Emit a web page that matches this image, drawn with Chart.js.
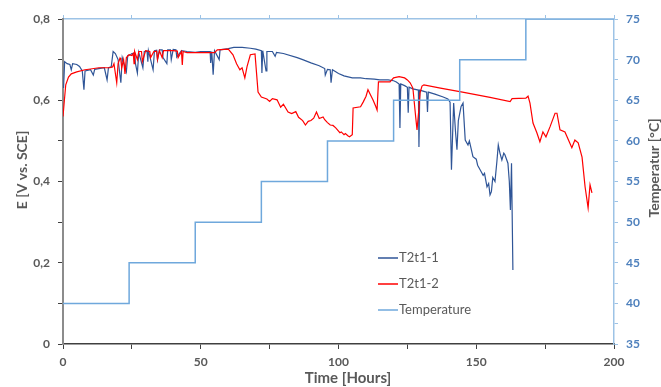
<!DOCTYPE html>
<html>
<head>
<meta charset="utf-8">
<script src="https://cdn.jsdelivr.net/npm/chart.js@4"></script>
<style>
  body { margin: 0; background: #fff; }
  #wrap { width: 661px; height: 387px; }
</style>
</head>
<body>
<div id="wrap"><canvas id="graficoSensores" width="661" height="387"></canvas></div>
<script>
// Dados (horas, volts, °C)
const blueHours = [0.2,0.6,1.5,2.5,3,3.5,5,6,7,7.6,8,10,11,11.5,13,15,16,16.5,17.5,18.2,19,20,21,21.5,23,23.5,24.5,25,26,26.3,27,27.5,29,29.5,30.5,30.8,31,32.7,33.2,34,34.3,35,36,36.3,37.7,38,39,39.3,40,41,41.3,43,45,48,50,53.4,53.6,54,54.5,55,56.7,57,60,62,65,68,70,72,72.2,72.5,73.7,74,76,77,77.5,80,85,87,90,93,95,95.2,96,97,97.3,97.8,99,100,102,105,108,110,113,115,118,120,121,122,122.3,122.6,124,125,125.3,125.6,127,129,129.2,129.5,131,132,132.3,132.6,135,138,139.7,140.5,141,141.8,142.5,143,143.5,144.5,145.2,146,147,147.5,148.8,150,150.5,151.4,152.5,153,153.9,154.5,155,155.5,156,156.8,157.5,158,158.6,159.3,160,160.4,161.5,162,162.4,162.8,163.3];
const blueVolts = [0.63,0.695,0.69,0.688,0.675,0.69,0.688,0.683,0.672,0.626,0.672,0.675,0.662,0.676,0.678,0.68,0.65,0.68,0.682,0.72,0.715,0.70,0.643,0.705,0.67,0.71,0.712,0.715,0.716,0.69,0.667,0.718,0.68,0.72,0.721,0.695,0.722,0.675,0.722,0.723,0.7,0.724,0.724,0.705,0.69,0.724,0.724,0.7,0.725,0.724,0.706,0.722,0.72,0.718,0.72,0.72,0.692,0.72,0.663,0.722,0.70,0.724,0.727,0.73,0.73,0.728,0.726,0.722,0.667,0.722,0.672,0.72,0.72,0.708,0.718,0.715,0.705,0.70,0.692,0.685,0.678,0.662,0.676,0.675,0.643,0.675,0.67,0.666,0.66,0.655,0.655,0.653,0.652,0.65,0.65,0.648,0.645,0.64,0.532,0.64,0.636,0.632,0.569,0.632,0.628,0.625,0.485,0.625,0.622,0.62,0.571,0.62,0.615,0.608,0.603,0.595,0.429,0.593,0.52,0.478,0.55,0.585,0.593,0.502,0.49,0.5,0.461,0.455,0.44,0.429,0.415,0.42,0.387,0.395,0.367,0.375,0.41,0.4,0.45,0.49,0.47,0.453,0.47,0.466,0.445,0.40,0.33,0.445,0.182];

const redHours = [0,0.5,1,2,3,5,8,10,13,17,18,18.5,19.5,20,20.7,21,21.3,22,22.5,23,24,25,25.5,25.8,26,27,27.5,28.5,28.8,30,31.5,31.8,33,34,34.3,35,36,36.5,40,41.5,41.8,43,43.3,43.6,45,50,55,56,60,61.7,63,64.2,65,66,66.8,68,69.7,70.8,72,74,75,76,77.7,79,80,81.7,83,84.5,85.5,87,88,89,90,91,92,93,94.4,95,96,97,98,99,100.5,101,102,102.5,103.5,104,105,105.3,108,109,110,110.7,111.5,112.5,113.5,114,114.5,116,118.7,120,122,124,125,126,127,128,128.5,129.2,129.6,130.3,131,137,145,155,162.3,163,168,168.8,169.5,170.6,172,173.1,174.2,175.3,176.8,178.6,179.3,180.4,182.2,184.7,185.8,187,188.4,189.5,190.6,191.3,192];
const redVolts = [0.56,0.6,0.638,0.657,0.665,0.67,0.675,0.677,0.68,0.68,0.682,0.69,0.643,0.69,0.704,0.70,0.68,0.70,0.665,0.705,0.712,0.71,0.715,0.69,0.72,0.70,0.72,0.72,0.695,0.722,0.72,0.705,0.72,0.721,0.70,0.722,0.705,0.722,0.722,0.721,0.705,0.72,0.687,0.72,0.717,0.717,0.717,0.724,0.726,0.712,0.69,0.675,0.68,0.655,0.683,0.712,0.714,0.62,0.608,0.603,0.597,0.604,0.601,0.583,0.59,0.571,0.567,0.572,0.558,0.55,0.539,0.548,0.55,0.556,0.571,0.555,0.559,0.552,0.545,0.539,0.538,0.532,0.52,0.522,0.515,0.518,0.512,0.51,0.515,0.581,0.584,0.596,0.61,0.626,0.615,0.601,0.585,0.576,0.645,0.645,0.645,0.655,0.658,0.655,0.65,0.643,0.63,0.56,0.527,0.58,0.618,0.635,0.638,0.63,0.62,0.607,0.597,0.604,0.605,0.61,0.593,0.544,0.52,0.498,0.522,0.51,0.535,0.568,0.568,0.527,0.522,0.483,0.502,0.495,0.46,0.387,0.335,0.392,0.372];

const tempHours = [0,24,48,72,96,120,144,168,200];
const tempValues = [40,45,50,55,60,65,70,75,75];

const legendLabels = ["T2t1-1", "T2t1-2", "Temperature"];
const seriesColors = ["#2F5597", "#FF0000", "#6FA8DC"];

function pares(xs, ys) {
  return xs.map((x, i) => ({ x: x, y: ys[i] }));
}

const cinza = "#595959";
const fonte = "Lato, 'Open Sans', sans-serif";

// títulos dos eixos e legenda dentro da área
const extras = {
  id: "extras",
  afterDraw(chart) {
    const ctx = chart.ctx;
    ctx.save();
    ctx.fillStyle = cinza;
    ctx.textAlign = "center";
    ctx.textBaseline = "middle";
    ctx.font = "bold 15px " + fonte;
    ctx.fillText("Time [Hours]", 348, 378);
    ctx.font = "bold 14px " + fonte;
    ctx.translate(22, 170);
    ctx.rotate(-Math.PI / 2);
    ctx.fillText("E [V vs. SCE]", 0, 0);
    ctx.restore();

    ctx.save();
    ctx.fillStyle = cinza;
    ctx.textAlign = "center";
    ctx.textBaseline = "middle";
    ctx.font = "bold 14px " + fonte;
    ctx.translate(654, 168);
    ctx.rotate(-Math.PI / 2);
    ctx.fillText("Temperatur [°C]", 0, 0);
    ctx.restore();

    ctx.save();
    ctx.font = "13px " + fonte;
    ctx.textBaseline = "middle";
    ctx.textAlign = "left";
    legendLabels.forEach((txt, i) => {
      const y = 258 + i * 26;
      ctx.strokeStyle = seriesColors[i];
      ctx.lineWidth = 1.5;
      ctx.beginPath();
      ctx.moveTo(378, y);
      ctx.lineTo(398, y);
      ctx.stroke();
      ctx.fillStyle = cinza;
      ctx.fillText(txt, 399, y);
    });
    ctx.restore();
  }
};

const ctx = document.getElementById("graficoSensores").getContext("2d");
const grafico = new Chart(ctx, {
  type: "line",
  data: {
    datasets: [
      {
        label: legendLabels[2],
        data: pares(tempHours, tempValues),
        yAxisID: "y2",
        xAxisID: "x",
        stepped: "before",
        borderColor: seriesColors[2],
        borderWidth: 1.5,
        pointRadius: 0,
        order: 0
      },
      {
        label: legendLabels[1],
        data: pares(redHours, redVolts),
        yAxisID: "y",
        xAxisID: "x",
        borderColor: seriesColors[1],
        borderWidth: 1.2,
        pointRadius: 0,
        tension: 0,
        order: 1
      },
      {
        label: legendLabels[0],
        data: pares(blueHours, blueVolts),
        yAxisID: "y",
        xAxisID: "x",
        borderColor: seriesColors[0],
        borderWidth: 1.2,
        pointRadius: 0,
        tension: 0,
        order: 2
      }
    ]
  },
  options: {
    responsive: false,
    animation: false,
    devicePixelRatio: 1,
    layout: { padding: 0 },
    plugins: { legend: { display: false }, tooltip: { enabled: false } },
    scales: {
      x: {
        type: "linear", position: "bottom", min: 0, max: 200,
        afterFit: s => { s.height = 43; },
        border: { display: true, color: "#404040", width: 1.5 },
        grid: { drawOnChartArea: false, drawTicks: true, tickLength: 5, color: "#404040" },
        ticks: {
          stepSize: 25, autoSkip: false, maxRotation: 0, padding: 6,
          color: cinza, font: { family: fonte, size: 12, weight: "bold" },
          callback: v => (v % 50 === 0 ? String(v) : "")
        }
      },
      x2: {
        type: "linear", position: "top", min: 0, max: 200,
        afterFit: s => { s.height = 19; },
        border: { display: true, color: "#9DC3E6", width: 1.5 },
        grid: { drawOnChartArea: false, drawTicks: true, tickLength: 4, color: "#9DC3E6" },
        ticks: { stepSize: 25, autoSkip: false, display: true, callback: () => "" }
      },
      y: {
        type: "linear", position: "left", min: 0, max: 0.8,
        afterFit: s => { s.width = 63; },
        border: { display: true, color: "#8C8C8C", width: 2 },
        grid: { drawOnChartArea: false, drawTicks: true, tickLength: 5, color: "#404040" },
        ticks: {
          stepSize: 0.1, autoSkip: false, padding: 8,
          color: cinza, font: { family: fonte, size: 12, weight: "bold" },
          callback: v => {
            const d = Math.round(v * 10);
            if (d % 2 !== 0) return "";
            return d === 0 ? "0" : (d / 10).toFixed(1).replace(".", ",");
          }
        }
      },
      y2: {
        type: "linear", position: "right", min: 35, max: 75,
        afterFit: s => { s.width = 47; },
        border: { display: true, color: "#9DC3E6", width: 1.5 },
        grid: { drawOnChartArea: false, drawTicks: true, tickLength: 4, color: "#9DC3E6" },
        ticks: {
          stepSize: 2.5, autoSkip: false, padding: 8,
          color: "#4F81BD", font: { family: fonte, size: 12, weight: "bold" },
          callback: v => (v % 5 === 0 ? String(v) : "")
        }
      }
    }
  },
  plugins: [extras]
});
</script>
</body>
</html>
